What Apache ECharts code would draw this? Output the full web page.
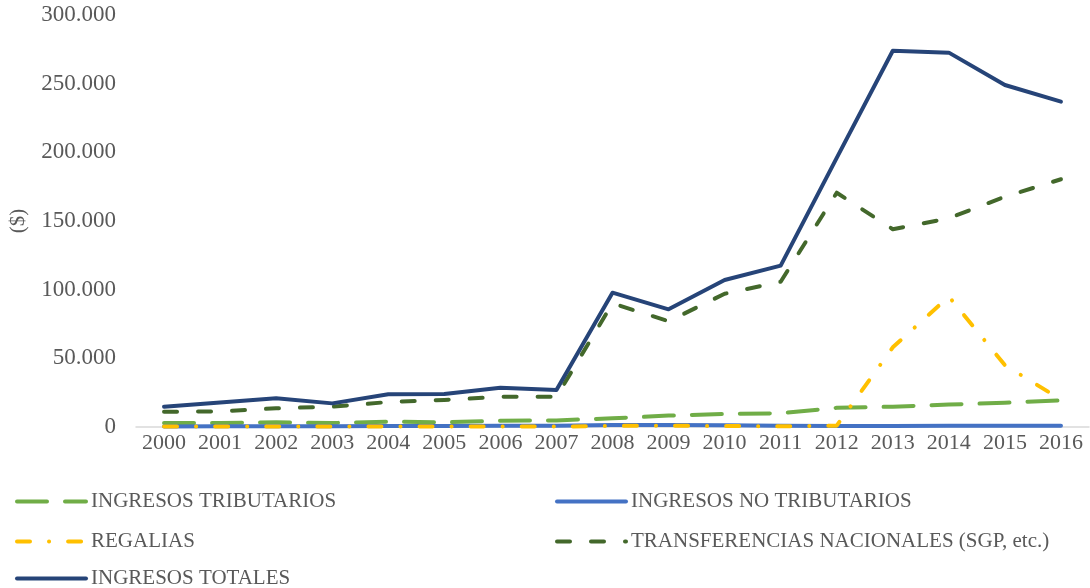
<!DOCTYPE html>
<html>
<head>
<meta charset="utf-8">
<script src="https://cdn.jsdelivr.net/npm/echarts@6/dist/echarts.min.js"></script>
<style>
  html, body { margin: 0; padding: 0; background: #fff; }
  #chart { width: 1090px; height: 588px; }
</style>
</head>
<body>
<div id="chart"></div>
<script>
const years = ["2000", "2001", "2002", "2003", "2004", "2005", "2006", "2007", "2008",
  "2009", "2010", "2011", "2012", "2013", "2014", "2015", "2016"];

const tributarios = [2900, 2900, 3400, 2900, 3900, 3400, 4600, 4800, 6300, 8300, 9500,
  10000, 14000, 14800, 16300, 17700, 19400];
const noTributarios = [400, 500, 600, 500, 700, 700, 900, 1000, 1500, 1400, 1300, 900,
  800, 800, 1000, 1000, 1000];
const regalias = [300, 300, 400, 300, 400, 300, 400, 300, 800, 900, 700, 500, 1000,
  58000, 95000, 45000, 20000];
const transferencias = [11100, 11400, 13600, 14800, 18200, 19700, 22000, 22000, 90000,
  77000, 97000, 105800, 170600, 144000, 152000, 167700, 180400];
const totales = [14800, 17800, 20900, 17200, 23800, 24000, 28600, 27000, 97800, 85700,
  107000, 117500, 196000, 274000, 272600, 249000, 236900];

const font = "'Liberation Serif', 'Times New Roman', serif";
const grey = "#595959";

const chart = echarts.init(document.getElementById("chart"));

const line = (name, data, color, type, width) => ({
  name,
  type: "line",
  data,
  symbol: "none",
  lineStyle: { color, width, type, cap: "round", join: "round" },
  itemStyle: { color },
});

// one legend per entry, laid out in two columns like the original
const legendAt = (name, left, top) => ({
  data: [name],
  left,
  top,
  padding: 0,
  itemWidth: 69,
  itemHeight: 14,
  itemStyle: { opacity: 0 },
  lineStyle: { width: 4, cap: "round" },
  textStyle: { fontFamily: font, fontSize: 21, color: grey },
});

chart.setOption({
  animation: false,
  grid: { left: 136, right: 1, top: 15, bottom: 161, outerBoundsMode: "none" },
  legend: [
    legendAt("INGRESOS TRIBUTARIOS", 15, 491),
    legendAt("INGRESOS NO TRIBUTARIOS", 555, 491),
    legendAt("REGALIAS", 15, 531),
    legendAt("TRANSFERENCIAS NACIONALES (SGP, etc.)", 555, 531),
    legendAt("INGRESOS TOTALES", 15, 568),
  ],
  xAxis: {
    type: "category",
    data: years,
    axisLine: { lineStyle: { color: "#D9D9D9", width: 1.5 } },
    axisTick: { show: false },
    axisLabel: { fontFamily: font, fontSize: 22, color: grey, margin: 5, interval: 0 },
  },
  yAxis: {
    type: "value",
    min: 0,
    max: 300000,
    interval: 50000,
    name: "($)",
    nameLocation: "middle",
    nameRotate: 90,
    nameGap: 107,
    nameTextStyle: { fontFamily: font, fontSize: 21, color: grey },
    splitLine: { show: false },
    axisLine: { show: false },
    axisTick: { show: false },
    axisLabel: {
      fontFamily: font,
      fontSize: 23,
      color: grey,
      margin: 20,
      formatter: (v) => v.toLocaleString("de-DE"),
    },
  },
  series: [
    line("INGRESOS TRIBUTARIOS", tributarios, "#70AD47", [30, 18], 4),
    line("INGRESOS NO TRIBUTARIOS", noTributarios, "#4472C4", "solid", 4),
    line("REGALIAS", regalias, "#FFC000", [13, 19, 0.1, 19], 4),
    line("TRANSFERENCIAS NACIONALES (SGP, etc.)", transferencias, "#43682B", [13, 21], 4),
    line("INGRESOS TOTALES", totales, "#264478", "solid", 4),
  ],
});
</script>
</body>
</html>
